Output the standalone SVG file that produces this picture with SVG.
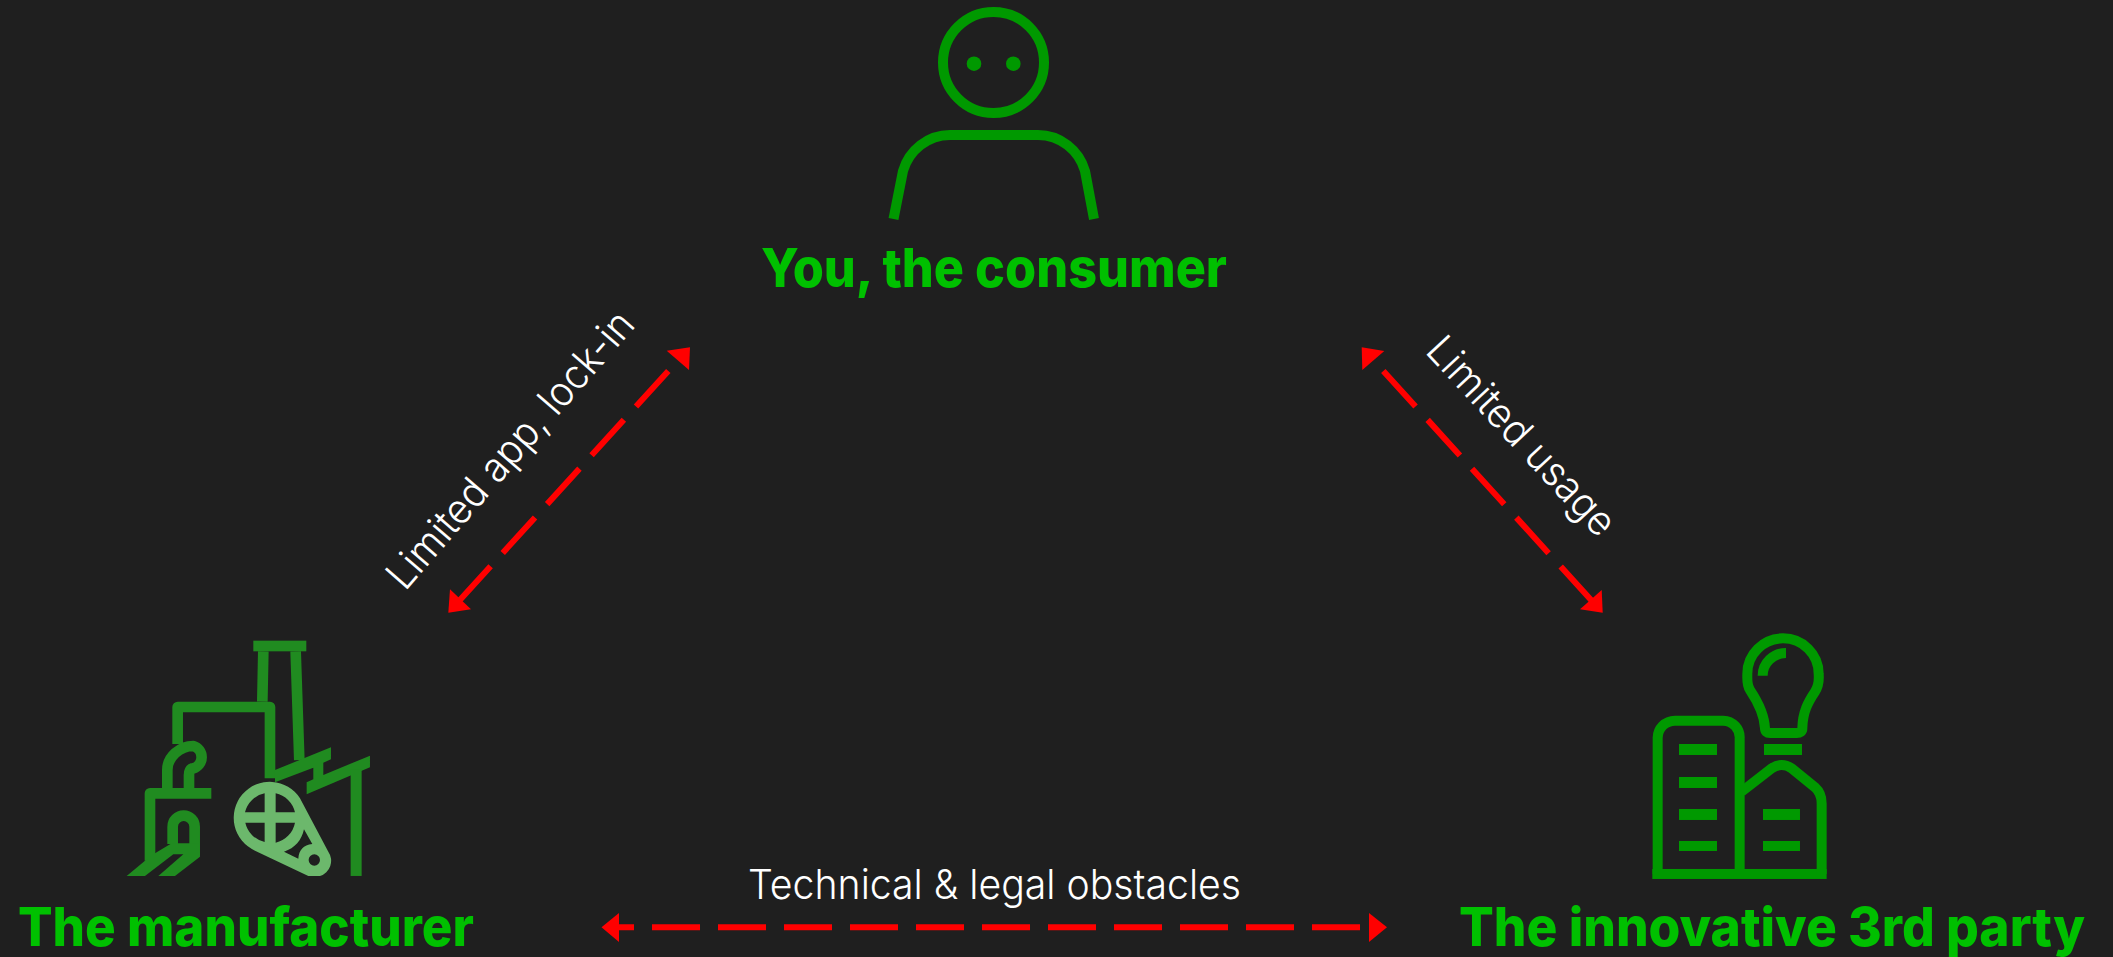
<svg xmlns="http://www.w3.org/2000/svg" width="2113" height="957" viewBox="0 0 2113 957">
<defs>
<style>
.h{font-family:"Inter","Liberation Sans",sans-serif;font-size:54px;font-weight:800;fill:#00c000;}
.l{font-family:"Inter","Liberation Sans",sans-serif;font-size:41px;font-weight:350;fill:#fff;}
.g{fill:none;stroke:#009900;stroke-width:10;}
.z{fill:none;stroke:#009900;stroke-width:30;}
.f{fill:none;stroke:#208b20;stroke-width:32;stroke-linejoin:round;}
.d{fill:none;stroke:#ff0000;stroke-width:6;stroke-dasharray:48 18;}
.a{fill:#ff0000;}
</style>
</defs>
<rect width="2113" height="957" fill="#1f1f1f"/>
<g id="connectors">
<g id="conn-left">
<path class="d" d="M668.3,371 L459,601"/>
<polygon class="a" points="690,347.3 666.7,350.7 689,370"/>
<polygon class="a" points="448.3,612.7 471,609.3 450,589.3"/>
</g>
<g id="conn-right">
<path class="d" d="M1383.3,371 L1592,601"/>
<polygon class="a" points="1361.7,347.3 1384.3,351 1362.3,370"/>
<polygon class="a" points="1602.7,612.7 1580,609.3 1601.7,590"/>
</g>
<g id="conn-bottom">
<path class="d" d="M616,927.3 L1372,927.3" stroke-dashoffset="30"/>
<polygon class="a" points="601.5,927.3 619,913 619,942"/>
<polygon class="a" points="1387,927.3 1369,913 1369,942"/>
</g>
<text class="l" id="label-left" transform="translate(405,592) rotate(-49)" textLength="353" lengthAdjust="spacingAndGlyphs">Limited app, lock-in</text>
<text class="l" id="label-right" transform="translate(1424,352) rotate(47)" textLength="256" lengthAdjust="spacingAndGlyphs">Limited usage</text>
<text class="l" id="label-bottom" x="748" y="899" textLength="493" lengthAdjust="spacingAndGlyphs">Technical &amp; legal obstacles</text>
</g>
<g id="node-consumer">
<circle class="g" cx="993.5" cy="62.5" r="50.5"/>
<circle cx="974" cy="63.7" r="7.3" fill="#009900"/>
<circle cx="1013.3" cy="63.7" r="7.3" fill="#009900"/>
<path class="g" d="M893.5,219 L903,171 C909,150 928,135 950,135 L1038,135 C1060,135 1079,150 1085,171 L1094,219"/>
<text class="h" x="761" y="287" textLength="466" lengthAdjust="spacingAndGlyphs">You, the consumer</text>
</g>
<g id="node-manufacturer">
<g transform="translate(100,620) scale(0.3333)">
<rect x="460" y="62" width="159" height="32" fill="#208b20"/>
<path class="f" stroke-linejoin="miter" d="M490,94 L487,245 M587,94 L598,420"/>
<path class="f" d="M233,372 L233,261 L510,261 L510,475"/>
<polygon fill="#208b20" points="525,450 693,382 693,418 670,428 670,465 810,407 810,442 620,523 620,487 640,478 640,443 525,487"/>
<rect x="752" y="450" width="33" height="318" fill="#208b20"/>
<path class="f" d="M202,505 L202,450 C202,410 240,378 280,378 A35,35 0 0 1 280,445 C270,445 267,455 267,465 L267,505"/>
<path class="f" d="M150,722 L150,520 L334,520"/>
<path class="f" d="M218,672 L218,620 A33,33 0 0 1 284,620 L284,705"/>
<polygon fill="#208b20" points="80,768 135,768 220,703 250,703 175,768 225,768 300,710 300,670 215,670 165,700 135,722"/>
<path fill="#6cb86c" fill-rule="evenodd" d="M600,535 L685,695 A48,48 0 0 1 660,768 L625,768 L465,692 A108,108 0 1 1 600,535 Z M494,577 L435,577 A76,76 0 0 1 494,520 Z M527,577 L585,577 A76,76 0 0 0 527,520 Z M494,608 L436,608 A76,76 0 0 0 494,666 Z M527,608 L585,608 A76,76 0 0 1 527,668 Z M552,695 L595,716 C597,690 610,675 637,672 L612,628 C605,660 585,685 552,695 Z M660,720 A17,17 0 1 0 626,720 A17,17 0 1 0 660,720 Z"/>
</g>
<text class="h" x="18" y="946" textLength="456" lengthAdjust="spacingAndGlyphs">The manufacturer</text>
</g>
<g id="node-third-party">
<g transform="translate(1630,620) scale(0.3333)" fill="#009900">
<path class="z" d="M83,762 L83,355 A52,52 0 0 1 135,302 L280,302 A50,50 0 0 1 329,355 L329,762"/>
<rect x="67" y="747" width="523" height="30"/>
<path class="z" d="M335,515 L425,445 Q455,425 485,445 L555,502 Q575,520 575,550 L575,762"/>
<rect x="147" y="372" width="114" height="33"/>
<rect x="147" y="471" width="114" height="33"/>
<rect x="147" y="567" width="114" height="33"/>
<rect x="147" y="663" width="114" height="30"/>
<rect x="399" y="567" width="111" height="33"/>
<rect x="399" y="663" width="111" height="30"/>
<rect x="402" y="372" width="114" height="33"/>
<path class="z" d="M405,325 C403,280 380,240 360,210 C350,195 352,180 352,161 A107,106 0 0 1 566,161 C568,185 565,200 555,215 C535,245 518,275 517,325 Q517,339 500,339 L420,339 Q405,339 405,325 Z"/>
<path class="z" d="M398,167 A70,68 0 0 1 468,99"/>
</g>
<text class="h" x="1459" y="946" textLength="626" lengthAdjust="spacingAndGlyphs">The innovative 3rd party</text>
</g>
</svg>
